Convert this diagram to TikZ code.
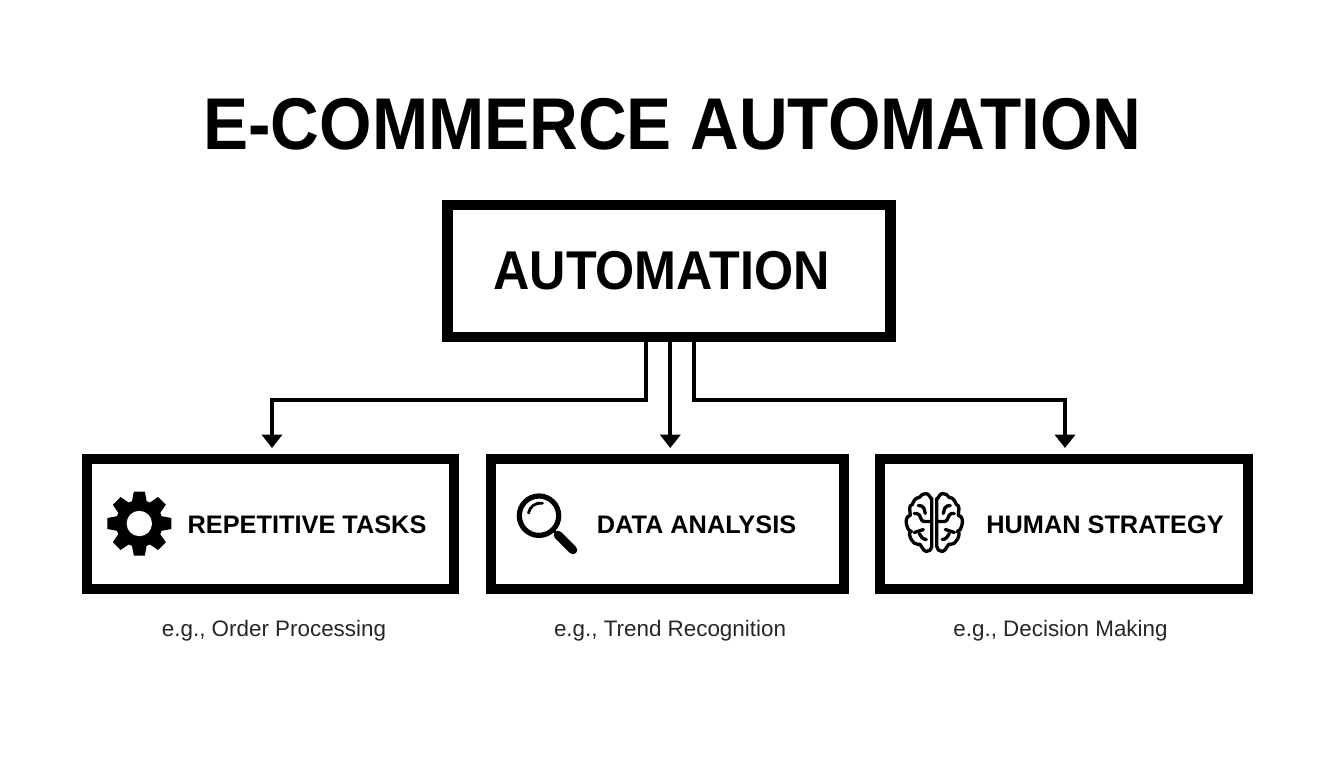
\documentclass[tikz,border=0pt]{standalone}
\usepackage{fontspec}
\setmainfont{Liberation Sans}
\newfontfamily\headfont[FakeStretch=0.92]{Liberation Sans}
\usetikzlibrary{arrows.meta}
\tikzset{
	framebox/.style={draw=black, line width=7.5pt, fill=white},
	boxlabel/.style={anchor=base, inner sep=0pt, font=\bfseries\fontsize{19}{19}\selectfont},
	examplelabel/.style={anchor=base, inner sep=0pt, font=\fontsize{16.8}{16.8}\selectfont, text=black!85},
	link/.style={line width=2.8pt, miter limit=10},
	linkarrow/.style={link, -{Triangle[width=15pt,length=10pt]}, shorten >=4.5pt},
	iconline/.style={line width=2.5pt, line cap=round, line join=round}
}
\begin{document}
\begin{tikzpicture}[x=0.75pt, y=-0.75pt]
		\useasboundingbox (0,0) rectangle (1344,768);

		\node (title) at (672.5,149) [anchor=base, inner sep=0pt, font=\headfont\bfseries\fontsize{55}{55}\selectfont] {E-COMMERCE AUTOMATION};

		\node (automation) at (668.7,271) [framebox, line width=8.2pt, minimum width=332.25pt, minimum height=99pt] {};
		\node (automationtext) at (661.5,289) [anchor=base, inner sep=0pt, font=\headfont\bfseries\fontsize{41}{41}\selectfont] {AUTOMATION};

		\node (repetitive) at (270.5,524) [framebox, minimum width=275.25pt, minimum height=97.5pt] {};
		\node (analysis) at (667.5,524) [framebox, minimum width=264.75pt, minimum height=97.5pt] {};
		\node (strategy) at (1064,524) [framebox, minimum width=276pt, minimum height=97.5pt] {};

		\node (repetitivetext) at (307,533) [boxlabel] {REPETITIVE TASKS};
		\node (analysistext) at (696.5,533) [boxlabel] {DATA ANALYSIS};
		\node (strategytext) at (1105,533) [boxlabel] {HUMAN STRATEGY};

		\node (repetitivenote) at (274,636) [examplelabel] {e.g., Order Processing};
		\node (analysisnote) at (670,636) [examplelabel] {e.g., Trend Recognition};
		\node (strategynote) at (1060.5,636) [examplelabel] {e.g., Decision Making};

		\coordinate (tapL) at (646,342);
		\coordinate (tapC) at (670.3,342);
		\coordinate (tapR) at (694,342);
		\coordinate (turnL) at (272,400);
		\coordinate (turnR) at (1065,400);

		\draw[linkarrow] (automation.south -| tapL) |- (turnL) -- (repetitive.north -| turnL);
		\draw[linkarrow] (automation.south -| tapC) -- (analysis.north -| tapC);
		\draw[linkarrow] (automation.south -| tapR) |- (turnR) -- (strategy.north -| turnR);

		\fill (139.3,523.5) circle (23.5);
		\foreach \ang in {0,45,...,315} {
			\fill[rotate around={\ang:(139.3,523.5)}] (131.3,505) -- (133.8,491.5) -- (144.8,491.5) -- (147.3,505) -- cycle;
		}
		\fill[white] (139.3,523.5) circle (12.7);

		\draw[line width=3.9pt] (539,515.7) circle (19.7);
		\draw[line width=2.1pt, line cap=round] (528.5,513) arc[start angle=190, end angle=280, radius=12];
		\draw[line width=2.2pt] (553,530) -- (557,534);
		\draw[line width=6.4pt, line cap=round] (558,535) -- (573,550);

		\foreach \flip in {1,-1} {
			\begin{scope}[shift={(934.3,522.5)}, xscale=\flip]
				\draw[iconline] (-2.5,-24) to[out=-90, in=0] (-8,-29) to[out=180, in=60] (-15,-25)
					to[out=180, in=70] (-22,-18) to[out=190, in=90] (-24,-7) to[out=180, in=110] (-27.5,3)
					to[out=-70, in=180] (-23,9) to[out=180, in=120] (-23,17) to[out=-60, in=180] (-16,22)
					to[out=60, in=180] (-8,29) to[out=0, in=-90] (-2.5,24) -- cycle;
				\draw[iconline] (-16,-17) to[out=0, in=120] (-10.5,-14.5) to[out=-60, in=90] (-9,-9);
				\draw[iconline] (-20,-9) to[out=0, in=120] (-15,-7.5) to[out=-60, in=180] (-10,-1) -- (-4,-1);
				\draw[iconline] (-20,10) to[out=0, in=180] (-11,7);
				\draw[iconline] (-15,11) to[out=-60, in=180] (-8,17);
			\end{scope}
		}

	\end{tikzpicture}
\end{document}
